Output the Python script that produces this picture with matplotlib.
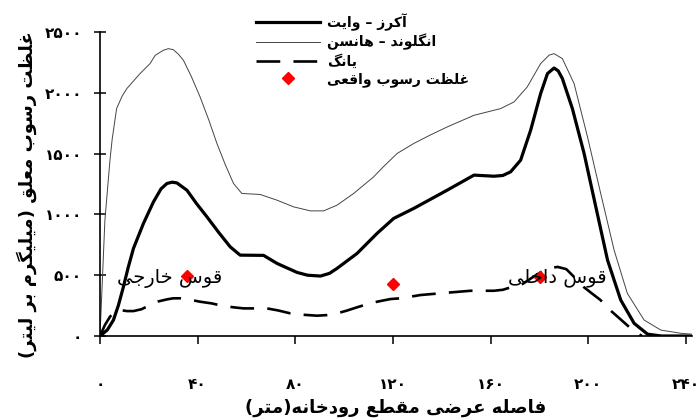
import matplotlib
matplotlib.use("Agg")
import matplotlib.pyplot as plt

# Arabic presentation forms: (isolated, final, initial, medial);
# two-entry letters only join to the letter before them
FORMS = {
    'ا': ('\uFE8D', '\uFE8E'), 'آ': ('\uFE81', '\uFE82'),
    'د': ('\uFEA9', '\uFEAA'), 'ر': ('\uFEAD', '\uFEAE'),
    'ز': ('\uFEAF', '\uFEB0'), 'و': ('\uFEED', '\uFEEE'),
    'ب': ('\uFE8F', '\uFE90', '\uFE91', '\uFE92'),
    'ت': ('\uFE95', '\uFE96', '\uFE97', '\uFE98'),
    'ج': ('\uFE9D', '\uFE9E', '\uFE9F', '\uFEA0'),
    'خ': ('\uFEA5', '\uFEA6', '\uFEA7', '\uFEA8'),
    'س': ('\uFEB1', '\uFEB2', '\uFEB3', '\uFEB4'),
    'ص': ('\uFEB9', '\uFEBA', '\uFEBB', '\uFEBC'),
    'ض': ('\uFEBD', '\uFEBE', '\uFEBF', '\uFEC0'),
    'ط': ('\uFEC1', '\uFEC2', '\uFEC3', '\uFEC4'),
    'ظ': ('\uFEC5', '\uFEC6', '\uFEC7', '\uFEC8'),
    'ع': ('\uFEC9', '\uFECA', '\uFECB', '\uFECC'),
    'غ': ('\uFECD', '\uFECE', '\uFECF', '\uFED0'),
    'ف': ('\uFED1', '\uFED2', '\uFED3', '\uFED4'),
    'ق': ('\uFED5', '\uFED6', '\uFED7', '\uFED8'),
    'ل': ('\uFEDD', '\uFEDE', '\uFEDF', '\uFEE0'),
    'م': ('\uFEE1', '\uFEE2', '\uFEE3', '\uFEE4'),
    'ن': ('\uFEE5', '\uFEE6', '\uFEE7', '\uFEE8'),
    'ه': ('\uFEE9', '\uFEEA', '\uFEEB', '\uFEEC'),
    'ی': ('\uFBFC', '\uFBFD', '\uFBFE', '\uFBFF'),
    'ک': ('\uFB8E', '\uFB8F', '\uFB90', '\uFB91'),
    'گ': ('\uFB92', '\uFB93', '\uFB94', '\uFB95'),
}


def fa(text):
    """Shape Persian text and put it in visual (left-to-right) order."""
    out = []
    for i, ch in enumerate(text):
        forms = FORMS.get(ch)
        if forms is None:
            out.append(ch)
            continue
        prev = text[i - 1] if i > 0 else ''
        nxt = text[i + 1] if i + 1 < len(text) else ''
        join_prev = prev in FORMS and len(FORMS[prev]) == 4
        join_next = len(forms) == 4 and nxt in FORMS
        if join_prev and join_next:
            out.append(forms[3])
        elif join_prev:
            out.append(forms[1])
        elif join_next:
            out.append(forms[2])
        else:
            out.append(forms[0])
    return ''.join(out)[::-1].translate(str.maketrans('()', ')('))


def fa_num(v):
    return str(v).translate(str.maketrans('0123456789', '۰۱۲۳۴۵۶۷۸۹'))


# distance across the river section (m) and suspended load (mg/l)
x_ackers = [0, 3, 5.5, 7.5, 9.6, 11.5, 13.7, 17.8, 21.9, 25, 27.4, 29.5, 31.5, 35.6, 39.5,
            43.8, 48.5, 53.3, 57.4, 67, 72.5, 80.7, 85, 90.3, 94, 97.1, 105.3, 113.5, 120.3,
            128.5, 142.2, 153.2, 161.4, 165, 168.2, 172.3, 176.4, 180.5, 183.3, 186, 187.7,
            189.4, 193.5, 198.3, 203.1, 207.9, 213.3, 218.8, 224.3, 230, 242.5]
y_ackers = [0, 50, 131, 250, 405, 560, 720, 926, 1103, 1210, 1254, 1265, 1259, 1199, 1090,
            980, 855, 734, 665, 663, 597, 523, 500, 493, 515, 556, 679, 844, 967,
            1049, 1199, 1323, 1314, 1320, 1350, 1446, 1692, 1994, 2158, 2204, 2180,
            2117, 1870, 1501, 1062, 624, 296, 104, 15, 0, 0]

x_engelund = [0, 2.0, 4.1, 5.0, 6.8, 9, 11, 16.4, 20.5, 22.6, 26, 28, 30, 32, 34.2, 37.5,
              41, 44.5, 47.9, 51.3, 54.7, 58.1, 65.6, 72.5, 79.3, 86.2, 91.6, 97.1, 103.9,
              112.1, 116, 121.7, 128.5, 135, 142.2, 153.2, 164.1, 169.6, 175, 180.5, 184,
              186, 189.4, 194.2, 199.7, 205.1, 210.6, 216, 222.9, 229.7, 238, 242.5]
y_engelund = [0, 950, 1450, 1620, 1870, 1970, 2035, 2158, 2240, 2308, 2350, 2363, 2355,
              2320, 2267, 2130, 1966, 1780, 1583, 1410, 1254, 1172, 1164, 1117, 1062, 1029,
              1029, 1076, 1172, 1309, 1390, 1501, 1583, 1650, 1719, 1815, 1870, 1925, 2048,
              2240, 2310, 2322, 2281, 2076, 1637, 1172, 706, 351, 131, 49, 22, 15]

x_yang = [0, 2, 4.1, 6, 8.2, 11, 13.7, 17, 20.5, 24, 27.4, 30, 32.8, 36.5, 41, 45.8, 50.6,
          54.7, 58.8, 68.4, 73, 78, 83, 88.9, 93, 97.1, 101, 105.3, 109.5, 113.5, 119, 123.1,
          131.3, 142.2, 151.8, 161.4, 165, 169, 172.5, 177, 181, 184.5, 187.5, 191, 194.5,
          198, 201.5, 205, 208, 212.5, 217, 220, 222]
y_yang = [0, 90, 159, 200, 214, 205, 205, 220, 255, 285, 301, 310, 310, 300, 282, 268, 246,
          236, 227, 227, 210, 186, 175, 167, 172, 186, 208, 236, 262, 282, 304, 310,
          337, 356, 372, 372, 380, 405, 420, 480, 530, 560, 568, 550, 480,
          405, 350, 296, 230, 150, 70, 25, 0]

x_measured = [35.6, 120.1, 180.2]
y_measured = [493, 427, 487]

x_ticks = [0, 40, 80, 120, 160, 200, 240]
y_ticks = [0, 500, 1000, 1500, 2000, 2500]

label_ackers = 'آکرز – وایت'
label_engelund = 'انگلوند – هانسن'
label_yang = 'یانگ'
label_measured = 'غلظت رسوب واقعی'
outer_bend = 'قوس خارجی'
inner_bend = 'قوس داخلی'
x_title = 'فاصله عرضی مقطع رودخانه(متر)'
y_title = 'غلظت رسوب معلق (میلیگرم بر لیتر)'

plt.rcParams['font.family'] = ['DejaVu Sans']

fig = plt.figure(figsize=(6.97, 4.2), dpi=100)
ax = fig.add_axes([100 / 697, 84 / 420, 592 / 697, 304 / 420])

ax.plot(x_ackers, y_ackers, color='black', lw=2.3, label=fa(label_ackers))
ax.plot(x_engelund, y_engelund, color='#444444', lw=0.7, label=fa(label_engelund))
ax.plot(x_yang, y_yang, color='black', lw=1.9, dashes=(9, 5), label=fa(label_yang))
ax.plot(x_measured, y_measured, ls='none', marker='D', ms=6, color='red',
        label=fa(label_measured))

# bend labels sit on top of the curves
ax.text(28.7, 476, fa(outer_bend), fontsize=14, ha='center', va='center')
ax.text(187.5, 485, fa(inner_bend), fontsize=14, ha='center', va='center')

ax.set_xlim(0, 242.5)
ax.set_ylim(0, 2500)
ax.set_xticks(x_ticks)
ax.set_xticklabels([fa_num(v) for v in x_ticks], fontweight='bold', fontsize=11)
ax.set_yticks(y_ticks)
ax.set_yticklabels([fa_num(v) for v in y_ticks], fontweight='bold', fontsize=11)
ax.tick_params(axis='x', direction='out', length=5.5, width=1.1, pad=24)
ax.tick_params(axis='y', direction='inout', length=8, width=1.1, pad=9)

for side in ('top', 'right'):
    ax.spines[side].set_visible(False)
for side in ('left', 'bottom'):
    ax.spines[side].set_linewidth(1.2)

fig.text(396 / 697, 1 - 408 / 420, fa(x_title), fontsize=13, fontweight='bold',
         ha='center', va='center')
fig.text(27 / 697, 1 - 195 / 420, fa(y_title), fontsize=13, fontweight='bold',
         rotation=90, ha='center', va='center')

leg = fig.legend(loc='upper left', bbox_to_anchor=(249 / 697, 1 - 6 / 420),
                 frameon=False, borderpad=0, handlelength=4.6, handletextpad=0.5,
                 labelspacing=0.25, prop={'weight': 'bold', 'size': 10})

fig.savefig('out.png', dpi=100)
